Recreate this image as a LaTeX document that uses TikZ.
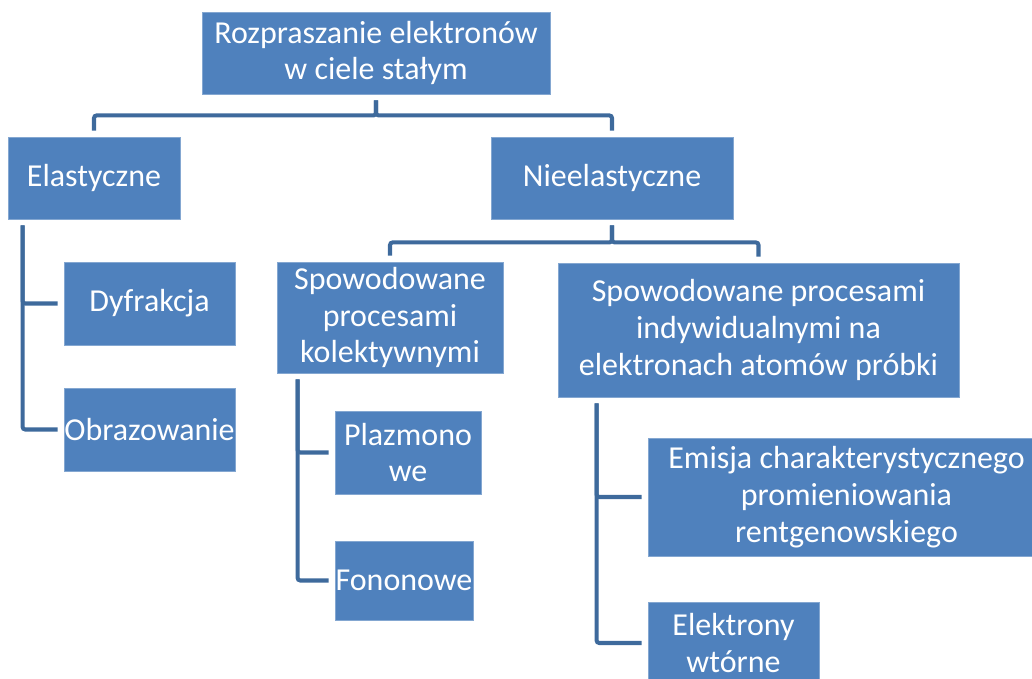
\documentclass[tikz,border=0pt]{standalone}
\usepackage{fontspec}
\setmainfont{Carlito}
\usepackage{tikz}
\usetikzlibrary{calc}
\definecolor{boxblue}{RGB}{79,129,189}
\definecolor{linkblue}{RGB}{62,106,156}

\begin{document}
\begin{tikzpicture}[
  x=0.02cm,y=-0.02cm,
  font=\fontsize{18.2}{21}\selectfont,
  cell/.style={fill=boxblue, draw=boxblue!70!white, line width=0.5pt,
    text=white, align=center, inner sep=0pt},
  link/.style={draw=linkblue, line width=2.3pt, rounded corners=1.5pt,
    shorten <=0.12cm, shorten >=0.12cm}
]
  \useasboundingbox (0,0) rectangle (1032,679);
  \clip (0,0) rectangle (1032,679);

  \node[cell, minimum width=6.96cm, minimum height=1.64cm] (root) at (376,53)
    {Rozpraszanie elektronów\\w ciele stałym};
  \node[cell, minimum width=3.44cm, minimum height=1.64cm] (ela) at (94,178)
    {Elastyczne};
  \node[cell, minimum width=4.84cm, minimum height=1.64cm] (niela) at (612,178)
    {Nieelastyczne};

  \node[cell, minimum width=3.42cm, minimum height=1.66cm] (dyf) at (149.5,303.5)
    {Dyfrakcja};
  \node[cell, minimum width=3.42cm, minimum height=1.66cm] (obr) at (149.5,429.5)
    {Obrazowanie};

  \node[cell, minimum width=4.52cm, minimum height=2.22cm] (kol) at (390,317.5)
    {Spowodowane\\procesami\\kolektywnymi};
  \node[cell, minimum width=8.02cm, minimum height=2.68cm] (ind) at (758.5,330)
    {Spowodowane procesami\\indywidualnymi na\\elektronach atomów próbki};

  \node[cell, minimum width=2.92cm, minimum height=1.66cm] (plaz) at (408,452.5)
    {Plazmono\\we};
  \node[cell, minimum width=2.76cm, minimum height=1.58cm] (fon) at (404,580.5)
    {Fononowe};

  \node[cell, minimum width=7.94cm, minimum height=2.36cm] (emi) at (846.5,497)
    {Emisja charakterystycznego\\promieniowania\\rentgenowskiego};
  \node[cell, minimum width=3.42cm, minimum height=1.64cm] (elw) at (733.5,643)
    {Elektrony\\wtórne};

  % top levels
  \draw[link] (root.south) -- ++(0,21) -| (ela.north);
  \draw[link] (root.south) -- ++(0,21) -| (niela.north);
  \draw[link] (niela.south) -- ++(0,23) -| (kol.north);
  \draw[link] (niela.south) -- ++(0,23) -| (ind.north);

  % side branches
  \draw[link] ($(ela.south west)+(15,0)$) |- (dyf.west);
  \draw[link] ($(ela.south west)+(15,0)$) |- (obr.west);
  \draw[link] ($(kol.south west)+(21,0)$) |- (plaz.west);
  \draw[link] ($(kol.south west)+(21,0)$) |- (fon.west);
  \draw[link] ($(ind.south west)+(39,0)$) |- (emi.west);
  \draw[link] ($(ind.south west)+(39,0)$) |- (elw.west);
\end{tikzpicture}
\end{document}
